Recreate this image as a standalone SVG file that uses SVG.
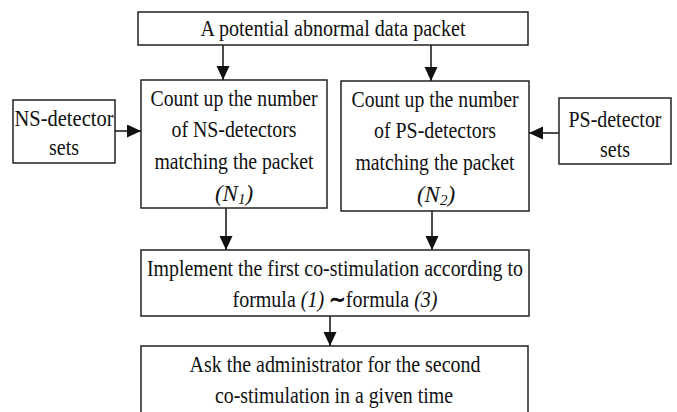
<svg xmlns="http://www.w3.org/2000/svg" width="677" height="412" viewBox="0 0 677 412">
  <defs>
    <marker id="arrow" markerUnits="userSpaceOnUse" markerWidth="15" markerHeight="14" refX="14" refY="6.5" orient="auto">
      <path d="M0,0 L14,6.5 L0,13 z" fill="#111"/>
    </marker>
    <style>
      .box { fill: #fff; stroke: #222; stroke-width: 1.5; }
      .lbl { font-family: "Liberation Serif", "Times New Roman", serif; font-size: 23px; fill: #111; text-anchor: middle; }
      .it { font-style: italic; }
      .sub { font-size: 15px; }
      .edge { stroke: #111; stroke-width: 1.5; fill: none; marker-end: url(#arrow); }
    </style>
  </defs>
  <rect width="677" height="412" fill="#fff"/>

  <g id="connectors">
    <line class="edge" x1="223" y1="45" x2="223" y2="80"/>
    <line class="edge" x1="431" y1="45" x2="431" y2="81"/>
    <line class="edge" x1="115" y1="131" x2="141" y2="131"/>
    <line class="edge" x1="559" y1="133" x2="529" y2="133"/>
    <line class="edge" x1="226" y1="208" x2="226" y2="250"/>
    <line class="edge" x1="432" y1="211" x2="432" y2="250"/>
    <line class="edge" x1="330" y1="316" x2="330" y2="346"/>
  </g>

  <g id="packet">
    <rect class="box" x="138" y="12" width="390" height="33"/>
    <text class="lbl" x="333" y="36" textLength="265" lengthAdjust="spacingAndGlyphs">A potential abnormal data packet</text>
  </g>

  <g id="ns-sets">
    <rect class="box" x="13" y="100" width="102" height="63"/>
    <text class="lbl" x="64" y="126" textLength="99" lengthAdjust="spacingAndGlyphs">NS-detector</text>
    <text class="lbl" x="64" y="155" textLength="30" lengthAdjust="spacingAndGlyphs">sets</text>
  </g>

  <g id="ps-sets">
    <rect class="box" x="559" y="98" width="112" height="66"/>
    <text class="lbl" x="615" y="127" textLength="93" lengthAdjust="spacingAndGlyphs">PS-detector</text>
    <text class="lbl" x="615" y="157" textLength="30" lengthAdjust="spacingAndGlyphs">sets</text>
  </g>

  <g id="ns-count">
    <rect class="box" x="141" y="80" width="186" height="128"/>
    <text class="lbl" x="234" y="106" textLength="167" lengthAdjust="spacingAndGlyphs">Count up the number</text>
    <text class="lbl" x="234" y="137" textLength="125" lengthAdjust="spacingAndGlyphs">of NS-detectors</text>
    <text class="lbl" x="234" y="169" textLength="159" lengthAdjust="spacingAndGlyphs">matching the packet</text>
    <text class="lbl it" x="234" y="201">(N<tspan class="sub" dy="3">1</tspan><tspan dy="-3">)</tspan></text>
  </g>

  <g id="ps-count">
    <rect class="box" x="341" y="81" width="188" height="130"/>
    <text class="lbl" x="435" y="107" textLength="167" lengthAdjust="spacingAndGlyphs">Count up the number</text>
    <text class="lbl" x="435" y="138" textLength="122" lengthAdjust="spacingAndGlyphs">of PS-detectors</text>
    <text class="lbl" x="435" y="170" textLength="159" lengthAdjust="spacingAndGlyphs">matching the packet</text>
    <text class="lbl it" x="436" y="202">(N<tspan class="sub" dy="3">2</tspan><tspan dy="-3">)</tspan></text>
  </g>

  <g id="co-stimulation-1">
    <rect class="box" x="141" y="250" width="388" height="66"/>
    <text class="lbl" x="335" y="276" textLength="376" lengthAdjust="spacingAndGlyphs">Implement the first co-stimulation according to</text>
    <!-- second line narrowed horizontally about its centre -->
    <text class="lbl" x="335" y="307" transform="matrix(0.87,0,0,1,43.55,0)">formula <tspan class="it">(1)</tspan> <tspan font-weight="bold">∼</tspan>formula <tspan class="it">(3)</tspan></text>
  </g>

  <g id="co-stimulation-2">
    <rect class="box" x="141" y="346" width="387" height="80"/>
    <text class="lbl" x="335" y="372" textLength="291" lengthAdjust="spacingAndGlyphs">Ask the administrator for the second</text>
    <text class="lbl" x="334" y="403" textLength="238" lengthAdjust="spacingAndGlyphs">co-stimulation in a given time</text>
  </g>
</svg>
